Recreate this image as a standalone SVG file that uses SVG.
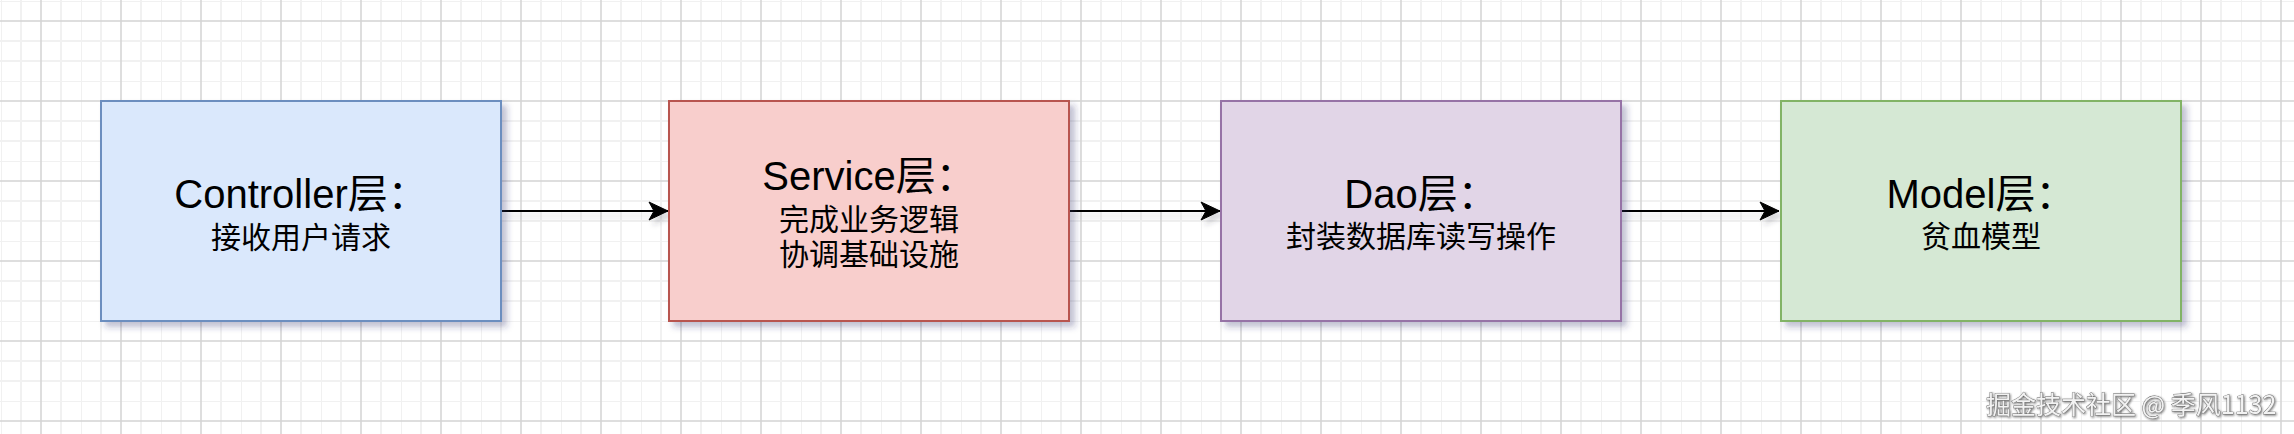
<svg xmlns="http://www.w3.org/2000/svg" width="2294" height="434" viewBox="0 0 2294 434">
  <style>
    .node rect { stroke-width: 2; filter: url(#shadow); }
    .t1 { font-family: "Liberation Sans", "Noto Sans CJK SC", sans-serif; font-size: 40px; fill: #000; text-anchor: middle; }
    .t2 { font-family: "Noto Sans CJK SC", "Liberation Sans", sans-serif; font-size: 30px; fill: #000; text-anchor: middle; }
    .edge { stroke: #000; stroke-width: 2; fill: none; marker-end: url(#arrow); }
    .wm { font-family: "Noto Sans CJK SC", "Liberation Sans", sans-serif; font-size: 25px; fill: #f2f2f2; stroke: #6a6a6a; stroke-width: 0.8; paint-order: stroke; filter: url(#tshadow); }
  </style>
  <defs>
    <pattern id="grid" x="1" y="1" width="80" height="80" patternUnits="userSpaceOnUse">
      <path d="M0 0V80M20 0V80M60 0V80M0 0H80M0 40H80M0 60H80" stroke="#f1f1f1" stroke-width="2" fill="none"/>
      <path d="M40 0V80M0 20H80" stroke="#d4d4d4" stroke-width="1.5" fill="none"/>
    </pattern>
    <filter id="shadow" x="-10%" y="-10%" width="125%" height="130%">
      <feDropShadow dx="5" dy="5" stdDeviation="3" flood-color="#30306a" flood-opacity="0.3"/>
    </filter>
    <filter id="lshadow" filterUnits="userSpaceOnUse" x="0" y="0" width="2294" height="434">
      <feDropShadow dx="4" dy="5" stdDeviation="2.5" flood-color="#303040" flood-opacity="0.2"/>
    </filter>
    <filter id="tshadow" x="-5%" y="-30%" width="110%" height="160%">
      <feDropShadow dx="1" dy="1" stdDeviation="0.8" flood-color="#222" flood-opacity="0.6"/>
    </filter>
    <marker id="arrow" markerUnits="userSpaceOnUse" markerWidth="22" markerHeight="22" viewBox="-20 -11 22 22" refX="0" refY="0" orient="auto">
      <path d="M0 0L-19 -9L-14 0L-19 9Z" fill="#000" stroke="#000" stroke-width="1"/>
    </marker>
  </defs>
  <rect width="2294" height="434" fill="#ffffff"/>
  <rect width="2294" height="434" fill="url(#grid)"/>

  <g id="connectors" filter="url(#lshadow)">
    <path class="edge" d="M502 211H668"/>
    <path class="edge" d="M1070 211H1220"/>
    <path class="edge" d="M1622 211H1779"/>
  </g>

  <g id="controller" class="node">
    <rect x="101" y="101" width="400" height="220" fill="#dae8fc" stroke="#6c8ebf"/>
    <text class="t1" x="301" y="208">Controller层：</text>
    <text class="t2" x="301" y="248">接收用户请求</text>
  </g>
  <g id="service" class="node">
    <rect x="669" y="101" width="400" height="220" fill="#f8cecc" stroke="#b85450"/>
    <text class="t1" x="869" y="190">Service层：</text>
    <text class="t2" x="869" y="230">完成业务逻辑</text>
    <text class="t2" x="869" y="265">协调基础设施</text>
  </g>
  <g id="dao" class="node">
    <rect x="1221" y="101" width="400" height="220" fill="#e1d5e7" stroke="#9673a6"/>
    <text class="t1" x="1421" y="208">Dao层：</text>
    <text class="t2" x="1421" y="247">封装数据库读写操作</text>
  </g>
  <g id="model" class="node">
    <rect x="1781" y="101" width="400" height="220" fill="#d5e8d4" stroke="#82b366"/>
    <text class="t1" x="1981" y="208">Model层：</text>
    <text class="t2" x="1981" y="247">贫血模型</text>
  </g>

  <text class="wm" x="1986" y="414">掘金技术社区 @ 季风1132</text>
</svg>
